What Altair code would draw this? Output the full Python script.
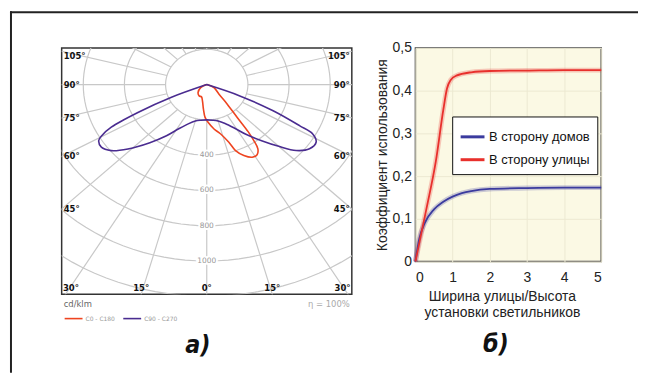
import altair as alt
import numpy as np
import pandas as pd

# ---------------- а) polar luminous-intensity diagram (cd/klm) ----------------
curve_names = ["C0 - C180", "C90 - C270"]
purple_angle = [-70, -67.2, -64.7, -62.5, -60.5, -58.9, -55.3, -51.1, -46.4, -40, -34, -28.5, -22, -15, -8, 0,
                8, 15, 22, 28.5, 34, 40, 45, 49.3, 53.9, 58.4, 61.5, 62.7, 65.3, 68.3, 71]
purple_intensity = [0, 189, 370, 523, 585, 613, 623, 596, 529, 430, 350, 285, 240, 214, 204, 200,
                    204, 214, 238, 280, 340, 415, 495, 573, 618, 624, 586, 507, 355, 173, 0]
red_angle = [-80, -60, -43, -30, -20, -12.8, -6.6, -2.5, 1.7, 8, 13.6, 18.2, 20.5, 24.2, 28.2,
             31.6, 34.3, 35.8, 37, 38.5, 42, 47.5, 64, 85]
red_intensity = [0, 34, 62, 74, 74, 94, 140, 186, 214, 254, 288, 344, 399, 440, 467,
                 467, 441, 391, 334, 238, 149, 81, 39, 0]
ring_radii = [200, 400, 600, 800, 1000, 1200, 1400]
ring_label_values = [400, 600, 800, 1000]
spoke_angles = list(range(-165, 181, 15))
side_label_angles = [45, 60, 75, 90, 105]
bottom_label_angles = [0, 15, 30]

# ---------------- б) utilisation factor ----------------
series_names = ["В сторону домов", "В сторону улицы"]
ratio_domov = [0, 0.1, 0.25, 0.5, 0.75, 1, 1.25, 1.5, 2, 3, 4, 5]
coef_domov = [0, 0.052, 0.09, 0.122, 0.14, 0.152, 0.16, 0.165, 0.17, 0.172, 0.173, 0.173]
ratio_ulitsy = [0, 0.3, 0.55, 0.75, 0.85, 0.95, 1.1, 1.5, 2, 3, 4, 5]
coef_ulitsy = [0, 0.125, 0.235, 0.355, 0.405, 0.425, 0.435, 0.443, 0.446, 0.447, 0.448, 0.448]

PURPLE = "#4a2c90"
RED = "#ee4420"
XMAX = 705
YMIN, YMAX = -1189, 208
CAPTION_FONT = "DejaVu Sans Condensed, DejaVu Sans"

X = alt.X("x:Q", scale=alt.Scale(domain=[-XMAX, XMAX], nice=False, zero=False), axis=None)
Y = alt.Y("y:Q", scale=alt.Scale(domain=[YMIN, YMAX], nice=False, zero=False), axis=None)
polar_xy = dict(x="datum.r*sin(datum.a*PI/180)", y="-datum.r*cos(datum.a*PI/180)")

rings_df = pd.DataFrame([{"r": r, "a": a} for r in ring_radii for a in range(0, 361, 3)])
rings = alt.Chart(rings_df).transform_calculate(**polar_xy).mark_line(
    color="#c8c8c8", strokeWidth=1.2, clip=True
).encode(x=X, y=Y, detail="r:N", order="a:Q")

spokes_df = pd.DataFrame({"a": spoke_angles})
spokes = alt.Chart(spokes_df).transform_calculate(
    x="200*sin(datum.a*PI/180)", y="-200*cos(datum.a*PI/180)",
    x2="1700*sin(datum.a*PI/180)", y2="-1700*cos(datum.a*PI/180)"
).mark_rule(color="#c8c8c8", strokeWidth=1.2, clip=True).encode(x=X, y=Y, x2="x2:Q", y2="y2:Q")

rl_df = pd.DataFrame({"r": ring_label_values, "a": [0] * len(ring_label_values)})
rl_base = alt.Chart(rl_df).transform_calculate(**polar_xy, t="format(datum.r, 'd')")
ring_halo = rl_base.mark_text(font="DejaVu Sans", fontSize=7.5, stroke="white", strokeWidth=4,
                              baseline="middle").encode(x=X, y=Y, text="t:N")
ring_text = rl_base.mark_text(font="DejaVu Sans", fontSize=7.5, color="#999",
                              baseline="middle").encode(x=X, y=Y, text="t:N")

side_rows = []
for a in side_label_angles:
    rad = np.deg2rad(a)
    yv = min(-XMAX * np.cos(rad) / np.sin(rad), 163.0)
    side_rows.append({"x": -XMAX, "y": yv, "t": f"{a}°", "side": "L"})
    side_rows.append({"x": XMAX, "y": yv, "t": f"{a}°", "side": "R"})
bottom_rows = []
for a in bottom_label_angles:
    xv = min(-YMIN * np.tan(np.deg2rad(a)), 660.0)
    bottom_rows.append({"x": -xv, "y": YMIN, "t": f"{a}°"})
    if a != 0:
        bottom_rows.append({"x": xv, "y": YMIN, "t": f"{a}°"})
side_df = pd.DataFrame(side_rows)
bottom_df = pd.DataFrame(bottom_rows)
lab_style = dict(font="DejaVu Sans", fontSize=8.5, fontWeight="bold", color="#111")
left_labels = alt.Chart(side_df).transform_filter("datum.side == 'L'").mark_text(
    align="left", baseline="middle", dx=2, **lab_style).encode(x=X, y=Y, text="t:N")
right_labels = alt.Chart(side_df).transform_filter("datum.side == 'R'").mark_text(
    align="right", baseline="middle", dx=-2, **lab_style).encode(x=X, y=Y, text="t:N")
bot_labels = alt.Chart(bottom_df).mark_text(
    align="center", baseline="bottom", dy=-1, **lab_style).encode(x=X, y=Y, text="t:N")

curves_df = pd.concat([
    pd.DataFrame({"curve": curve_names[0], "a": red_angle, "r": red_intensity,
                  "o": range(len(red_angle))}),
    pd.DataFrame({"curve": curve_names[1], "a": purple_angle, "r": purple_intensity,
                  "o": range(len(purple_angle))}),
])
curves = alt.Chart(curves_df).transform_calculate(**polar_xy).mark_line(
    strokeWidth=1.6, interpolate="catmull-rom"
).encode(
    x=X, y=Y, order="o:Q",
    color=alt.Color("curve:N", scale=alt.Scale(domain=curve_names, range=[RED, PURPLE]),
                    legend=alt.Legend(title=None, orient="none", legendX=2, legendY=262,
                                      direction="horizontal", symbolType="stroke",
                                      symbolSize=324, symbolStrokeWidth=1.6,
                                      labelFontSize=6, labelColor="#999",
                                      labelFont="DejaVu Sans", columnPadding=4,
                                      padding=0, labelOffset=2))
)

one = pd.DataFrame({"k": [0]})
unit_txt = alt.Chart(one).mark_text(align="left", baseline="middle", font="DejaVu Sans",
                                    fontSize=8.5, color="#666", text="cd/klm").encode(
    x=alt.value(2), y=alt.value(258))
eta_txt = alt.Chart(one).mark_text(align="right", baseline="middle", font="DejaVu Sans",
                                   fontSize=8.5, color="#aaa", text="η = 100%").encode(
    x=alt.value(290), y=alt.value(258))
cap_a = alt.Chart(one).mark_text(align="center", baseline="middle", font=CAPTION_FONT,
                                 fontSize=25, fontWeight="bold", fontStyle="italic",
                                 color="#111", text="а)").encode(
    x=alt.value(137), y=alt.value(299))
frame_top = alt.Chart(one).mark_rule(color="#222", strokeWidth=2).encode(
    x=alt.value(-52), x2=alt.value(580), y=alt.value(-36))
frame_left = alt.Chart(one).mark_rule(color="#222", strokeWidth=2).encode(
    x=alt.value(-51), y=alt.value(-37), y2=alt.value(327))

left = alt.layer(
    rings, spokes, ring_halo, ring_text, curves, left_labels, right_labels, bot_labels,
    unit_txt, eta_txt, cap_a, frame_top, frame_left
).properties(
    width=292, height=248,
    view=alt.ViewBackground(stroke="#333", strokeWidth=1.5, fill="white"),
)

# ---------------- right panel ----------------
util_df = pd.concat([
    pd.DataFrame({"side": series_names[0], "ratio": ratio_domov, "coef": coef_domov}),
    pd.DataFrame({"side": series_names[1], "ratio": ratio_ulitsy, "coef": coef_ulitsy}),
])
RX = alt.X("ratio:Q", scale=alt.Scale(domain=[0, 5], nice=False),
           axis=alt.Axis(values=[0, 1, 2, 3, 4, 5], format="d",
                         title=["Ширина улицы/Высота", "установки светильников"],
                         titleX=87, ticks=False, domain=False, labelPadding=9,
                         titlePadding=5, labelFontSize=14, titleFontSize=14,
                         labelFont="Liberation Sans", titleFont="Liberation Sans",
                         titleFontWeight="normal", labelColor="#222", titleColor="#222",
                         gridColor="#ece9d2", titleLineHeight=16))
RY = alt.Y("coef:Q", scale=alt.Scale(domain=[0, 0.5], nice=False),
           axis=alt.Axis(values=[0, 0.1, 0.2, 0.3, 0.4, 0.5],
                         labelExpr="datum.value == 0 ? '0' : replace(format(datum.value, '.1f'), '.', ',')",
                         title="Коэффициент использования", ticks=False, domain=False,
                         labelPadding=4, titlePadding=3, labelFontSize=14, titleFontSize=14,
                         labelFont="Liberation Sans", titleFont="Liberation Sans",
                         titleFontWeight="normal", labelColor="#222", titleColor="#222",
                         gridColor="#ece9d2"))
leg = alt.Legend(title=None, orient="none", legendX=37, legendY=69, symbolType="stroke",
                 symbolSize=576, symbolStrokeWidth=3, symbolOpacity=1, labelFontSize=13,
                 labelFont="Liberation Sans", labelColor="#111", strokeColor="#111",
                 fillColor="white", padding=7, rowPadding=2, labelOffset=3)
cscale = alt.Scale(domain=series_names, range=["#3b3b9e", "#e8302c"])
halo = alt.Chart(util_df).mark_line(strokeWidth=5, opacity=0.25, interpolate="monotone").encode(
    x=RX, y=RY, color=alt.Color("side:N", scale=cscale, legend=leg))
main = alt.Chart(util_df).mark_line(strokeWidth=1.8, interpolate="monotone").encode(
    x=RX, y=RY, color=alt.Color("side:N", scale=cscale, legend=leg))
cap_b = alt.Chart(one).mark_text(align="center", baseline="middle", font=CAPTION_FONT,
                                 fontSize=25, fontWeight="bold", fontStyle="italic",
                                 color="#111", text="б)").encode(
    x=alt.value(81), y=alt.value(298))
right = alt.layer(halo, main, cap_b).properties(
    width=187, height=215,
    view=alt.ViewBackground(stroke="#444", strokeWidth=1.5, fill="#fbf9e4"),
)

chart = alt.hconcat(left, right, spacing=64, bounds="flush").resolve_scale(
    x="independent", y="independent", color="independent"
).resolve_legend(color="independent").properties(padding=0).configure(background="white")

chart.save("out.html", embed_options={"renderer": "svg", "actions": False})
